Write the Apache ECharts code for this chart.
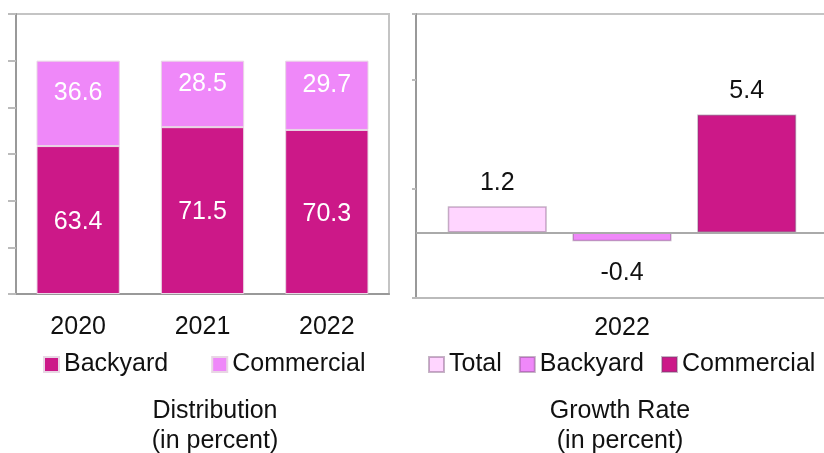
<!DOCTYPE html>
<html>
<head>
<meta charset="utf-8">
<script src="https://cdn.jsdelivr.net/npm/echarts@6/dist/echarts.min.js"></script>
<style>
  html, body { margin: 0; padding: 0; background: #fff; }
  #dist { position: absolute; left: 0; top: 0; width: 412px; height: 453px; }
  #growth { position: absolute; left: 412px; top: 0; width: 412px; height: 453px; }
</style>
</head>
<body>
<div id="dist"></div>
<div id="growth"></div>
<script>
// distribution, in percent
const years = ['2020', '2021', '2022'];
const backyardShare = [63.4, 71.5, 70.3];
const commercialShare = [36.6, 28.5, 29.7];
const shareAxis = [0, 120, 20];

// growth rate 2022, in percent
const growthYear = ['2022'];
const growthNames = ['Total', 'Backyard', 'Commercial'];
const growthValues = [1.2, -0.4, 5.4];
const growthAxis = [-3, 10, 5];

const FONT = 'Liberation Sans, Arial, sans-serif';
const FS = 25;
const DARK = '#cc1888';
const LIGHT = '#ef88f9';
const PALE = '#ffd5ff';
const growthColors = [PALE, LIGHT, DARK];

function valueAxis(range) {
    return {
        type: 'value',
        min: range[0],
        max: range[1],
        interval: range[2],
        axisLabel: { show: false },
        splitLine: { show: false },
        axisLine: { show: true, onZero: false, lineStyle: { color: '#999', width: 2 } },
        axisTick: { show: true, length: 8, lineStyle: { color: '#bbb', width: 2 } }
    };
}

function titleOf(text, x) {
    return {
        text: text, left: x, top: 396, textAlign: 'center', padding: 0,
        textStyle: { fontFamily: FONT, fontSize: FS, fontWeight: 'normal', lineHeight: 30, color: '#111' }
    };
}

function legendOf(names, x, gap) {
    return {
        data: names, left: x, top: 352, padding: 0, icon: 'rect',
        itemWidth: 15, itemHeight: 15, itemGap: gap,
        textStyle: { fontFamily: FONT, fontSize: FS, color: '#111' }
    };
}

const distChart = echarts.init(document.getElementById('dist'));
distChart.setOption({
    animation: false,
    textStyle: { fontFamily: FONT },
    title: titleOf('Distribution\n(in percent)', 215),
    legend: legendOf(['Backyard', 'Commercial'], 43, 43),
    grid: { left: 16, right: 23, top: 14, bottom: 159, show: true, borderColor: '#c4c4c4', borderWidth: 2, outerBoundsMode: 'none' },
    xAxis: {
        type: 'category',
        data: years,
        axisLine: { lineStyle: { color: '#999', width: 2 } },
        axisTick: { length: 8, lineStyle: { color: '#999', width: 2 } },
        axisLabel: { fontFamily: FONT, fontSize: FS, color: '#111', margin: 21 }
    },
    yAxis: valueAxis(shareAxis),
    series: [
        {
            name: 'Backyard', type: 'bar', stack: 'share', data: backyardShare, barWidth: '67%',
            itemStyle: { color: DARK, borderColor: '#e8d6e4', borderWidth: 1 },
            label: { show: true, position: 'inside', offset: [0, 2], color: '#fff', fontFamily: FONT, fontSize: FS }
        },
        {
            name: 'Commercial', type: 'bar', stack: 'share', data: commercialShare,
            itemStyle: { color: LIGHT, borderColor: '#e8d6e4', borderWidth: 1 },
            label: { show: true, position: 'inside', offset: [0, -10], color: '#fff', fontFamily: FONT, fontSize: FS }
        }
    ]
});

const growthChart = echarts.init(document.getElementById('growth'));
growthChart.setOption({
    animation: false,
    textStyle: { fontFamily: FONT },
    title: titleOf('Growth Rate\n(in percent)', 208),
    legend: legendOf(growthNames, 16, 17),
    grid: { left: 4, right: -4, top: 14, bottom: 155, show: true, borderColor: '#c4c4c4', borderWidth: 2, outerBoundsMode: 'none' },
    xAxis: {
        type: 'category',
        data: growthYear,
        axisLine: { onZero: false, lineStyle: { color: '#bbb', width: 2 } },
        axisTick: { show: false },
        axisLabel: { fontFamily: FONT, fontSize: FS, color: '#111', margin: 18 }
    },
    yAxis: valueAxis(growthAxis),
    series: growthNames.map(function (name, i) {
        const v = growthValues[i];
        return {
            name: name, type: 'bar', data: [v], barWidth: 99, barGap: '26%',
            itemStyle: { color: growthColors[i], borderColor: 'rgba(110,70,110,0.4)', borderWidth: 1.5 },
            label: {
                show: true, position: v < 0 ? 'bottom' : 'top', distance: v < 0 ? 19 : 11,
                color: '#111', fontFamily: FONT, fontSize: FS
            },
            markLine: i === 0 ? {
                silent: true, symbol: 'none', label: { show: false },
                lineStyle: { color: '#aaa', width: 2, type: 'solid' },
                data: [{ yAxis: 0 }]
            } : undefined
        };
    })
});
</script>
</body>
</html>
